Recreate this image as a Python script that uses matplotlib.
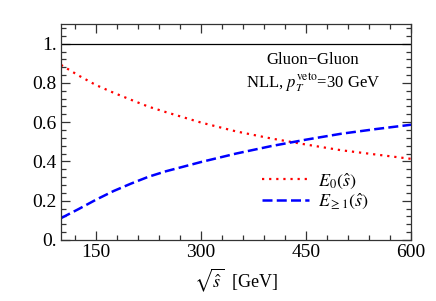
import matplotlib
matplotlib.use("Agg")
import matplotlib.pyplot as plt
from matplotlib.ticker import MultipleLocator, FixedLocator, FixedFormatter

plt.rcParams['font.family'] = ['Liberation Serif', 'DejaVu Serif']
plt.rcParams['mathtext.fontset'] = 'stix'

# values
sqrt_s = [100, 125, 150, 175, 200, 225, 250, 300, 350, 400, 450, 500, 550, 600]
e0 = [0.892, 0.838, 0.789, 0.750, 0.714, 0.679, 0.651, 0.598, 0.553, 0.517,
      0.486, 0.457, 0.435, 0.413]
e1 = [0.111, 0.157, 0.205, 0.249, 0.287, 0.322, 0.350, 0.397, 0.440, 0.478,
      0.511, 0.541, 0.565, 0.587]

x_ticks = [150, 300, 450, 600]
x_labels = ["150", "300", "450", "600"]
y_ticks = [0.0, 0.2, 0.4, 0.6, 0.8, 1.0]
y_labels = ["0.", "0.2", "0.4", "0.6", "0.8", "1."]

fig = plt.figure(figsize=(4.36, 3.01), dpi=100)
ax = fig.add_axes([0.140, 0.203, 0.803, 0.717])

ax.axhline(1.0, color="black", lw=0.9)
ax.plot(sqrt_s, e0, color=(1, 0, 0), lw=1.6, linestyle=(0, (1, 2.2)),
        label=r"$E_0(\hat{s})$")
ax.plot(sqrt_s, e1, color=(0, 0, 1), lw=1.8, linestyle=(0, (4, 1.7)),
        label=r"$E_{\geq 1}(\hat{s})$")

ax.set_xlim(100, 600)
ax.set_ylim(0, 1.1)

ax.xaxis.set_major_locator(FixedLocator(x_ticks))
ax.xaxis.set_major_formatter(FixedFormatter(x_labels))
ax.xaxis.set_minor_locator(MultipleLocator(30))
ax.yaxis.set_major_locator(FixedLocator(y_ticks))
ax.yaxis.set_major_formatter(FixedFormatter(y_labels))
ax.yaxis.set_minor_locator(MultipleLocator(0.04))

ax.tick_params(which="both", direction="in", top=True, right=True,
               labelsize=14, width=0.9, color="#333333")
ax.tick_params(which="major", length=6.5, pad=3)
ax.tick_params(which="minor", length=3.5)
for s in ax.spines.values():
    s.set_linewidth(0.9)
    s.set_color("#333333")

ax.set_xlabel(r"$\sqrt{\hat{s}}$  [GeV]", fontsize=13, labelpad=4)

ax.text(0.72, 0.815, "Gluon\u2212Gluon", transform=ax.transAxes,
        ha="center", va="baseline", fontsize=12)
ax.text(0.72, 0.708, r"NLL, $p_T^{\rm veto}$=30 GeV", transform=ax.transAxes,
        ha="center", va="baseline", fontsize=12)

ax.legend(loc="center", bbox_to_anchor=(0.727, 0.225), frameon=False,
          fontsize=13, handlelength=2.6, handletextpad=0.5, labelspacing=0.05)

fig.savefig("out.png", dpi=100)
